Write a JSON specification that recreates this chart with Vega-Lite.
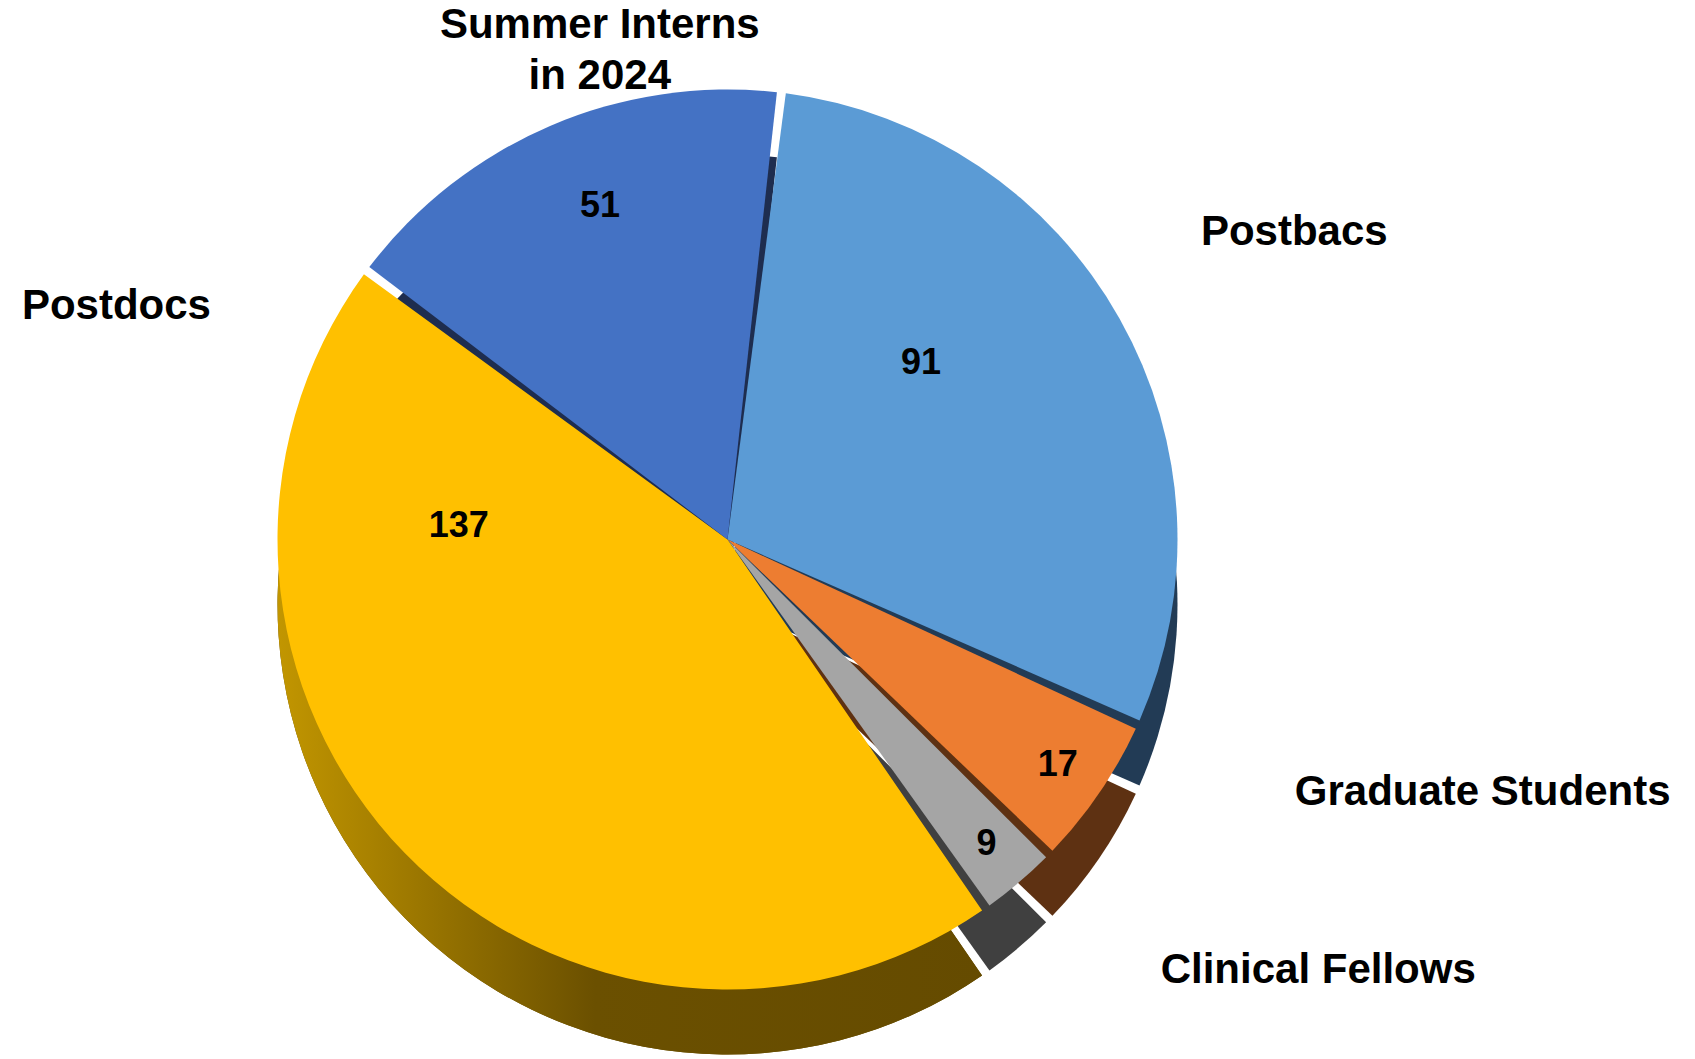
{
  "$schema": "https://vega.github.io/schema/vega-lite/v6.json",
  "width": 1455,
  "height": 1039,
  "autosize": {"type": "none"},
  "padding": {"left": 0, "top": 20, "right": 240, "bottom": 0},
  "background": "white",
  "config": {"view": {"stroke": null}},
  "data": {
    "values": [
      {"cat": "Postbacs", "value": 91},
      {"cat": "Graduate Students", "value": 17},
      {"cat": "Clinical Fellows", "value": 9},
      {"cat": "Postdocs", "value": 137},
      {"cat": "Summer Interns\nin 2024", "value": 51}
    ]
  },
  "transform": [{"window": [{"op": "row_number", "as": "idx"}]}],
  "encoding": {
    "theta": {"field": "value", "type": "quantitative", "stack": true, "scale": {"range": [0.12, 6.4032]}},
    "order": {"field": "idx", "type": "quantitative"},
    "detail": {"field": "cat", "type": "nominal"}
  },
  "layer": [
    {
      "mark": {"type": "arc", "radius": 450, "yOffset": 65, "padAngle": 0.02},
      "encoding": {
        "color": {
          "field": "cat", "type": "nominal", "legend": null,
          "scale": {
            "domain": ["Postbacs", "Graduate Students", "Clinical Fellows", "Postdocs", "Summer Interns\nin 2024"],
            "range": ["#223b55", "#5e3112", "#404040", "#6a4f00", "#1e2d4f"]
          }
        }
      }
    },
    {
      "mark": {
        "type": "arc", "radius": 450, "yOffset": 65, "padAngle": 0.02,
        "fill": {
          "gradient": "linear", "x1": 0, "y1": 0, "x2": 1, "y2": 0,
          "stops": [
            {"offset": 0, "color": "#c29600"},
            {"offset": 0.45, "color": "#6b5000"},
            {"offset": 1, "color": "#654b00"}
          ]
        }
      },
      "encoding": {
        "opacity": {"condition": {"test": "datum.cat === 'Postdocs'", "value": 1}, "value": 0}
      }
    },
    {
      "mark": {"type": "arc", "radius": 450, "padAngle": 0.02},
      "encoding": {
        "color": {
          "field": "cat", "type": "nominal", "legend": null,
          "scale": {
            "domain": ["Postbacs", "Graduate Students", "Clinical Fellows", "Postdocs", "Summer Interns\nin 2024"],
            "range": ["#5b9bd5", "#ed7d31", "#a5a5a5", "#ffc000", "#4472c4"]
          }
        }
      }
    },
    {
      "mark": {"type": "text", "radius": 645, "thetaOffset": 0.016, "font": "Liberation Sans", "fontWeight": "bold", "fontSize": 42, "align": "center", "baseline": "middle", "color": "black"},
      "encoding": {"text": {"condition": {"test": "datum.cat === 'Postbacs'", "field": "cat"}, "value": ""}}
    },
    {
      "mark": {"type": "text", "radius": 530, "thetaOffset": 0.162, "font": "Liberation Sans", "fontWeight": "bold", "fontSize": 42, "align": "center", "baseline": "middle", "lineBreak": "\n", "lineHeight": 51, "color": "black"},
      "encoding": {"text": {"condition": {"test": "indexof(datum.cat, 'Summer') >= 0", "field": "cat"}, "value": ""}}
    },
    {
      "mark": {"type": "text", "radius": 621, "thetaOffset": -0.18, "font": "Liberation Sans", "fontWeight": "bold", "fontSize": 42, "align": "left", "baseline": "middle", "color": "black"},
      "encoding": {"text": {"condition": {"test": "datum.cat === 'Graduate Students'", "field": "cat"}, "value": ""}}
    },
    {
      "mark": {"type": "text", "radius": 611, "thetaOffset": -0.084, "font": "Liberation Sans", "fontWeight": "bold", "fontSize": 42, "align": "left", "baseline": "middle", "color": "black"},
      "encoding": {"text": {"condition": {"test": "datum.cat === 'Clinical Fellows'", "field": "cat"}, "value": ""}}
    },
    {
      "mark": {"type": "text", "radius": 567, "thetaOffset": 1.196, "font": "Liberation Sans", "fontWeight": "bold", "fontSize": 42, "align": "right", "baseline": "middle", "color": "black"},
      "encoding": {"text": {"condition": {"test": "datum.cat === 'Postdocs'", "field": "cat"}, "value": ""}}
    },
    {
      "mark": {"type": "text", "radius": 269, "thetaOffset": 0.82, "font": "Liberation Sans", "fontWeight": "bold", "fontSize": 36, "align": "center", "baseline": "middle", "color": "black"},
      "encoding": {"text": {"condition": {"test": "datum.cat === 'Postdocs'", "field": "value", "type": "quantitative"}, "value": ""}}
    },
    {
      "mark": {"type": "text", "radius": 357, "thetaOffset": 0.04, "font": "Liberation Sans", "fontWeight": "bold", "fontSize": 36, "align": "center", "baseline": "middle", "color": "black"},
      "encoding": {"text": {"condition": {"test": "indexof(datum.cat, 'Summer') >= 0", "field": "value", "type": "quantitative"}, "value": ""}}
    },
    {
      "mark": {"type": "text", "radius": 262, "thetaOffset": -0.227, "font": "Liberation Sans", "fontWeight": "bold", "fontSize": 36, "align": "center", "baseline": "middle", "color": "black"},
      "encoding": {"text": {"condition": {"test": "datum.cat === 'Postbacs'", "field": "value", "type": "quantitative"}, "value": ""}}
    },
    {
      "mark": {"type": "text", "radius": 400, "font": "Liberation Sans", "fontWeight": "bold", "fontSize": 36, "align": "center", "baseline": "middle", "color": "black"},
      "encoding": {"text": {"condition": {"test": "datum.cat === 'Graduate Students' || datum.cat === 'Clinical Fellows'", "field": "value", "type": "quantitative"}, "value": ""}}
    }
  ],
  "resolve": {"scale": {"color": "independent"}}
}
